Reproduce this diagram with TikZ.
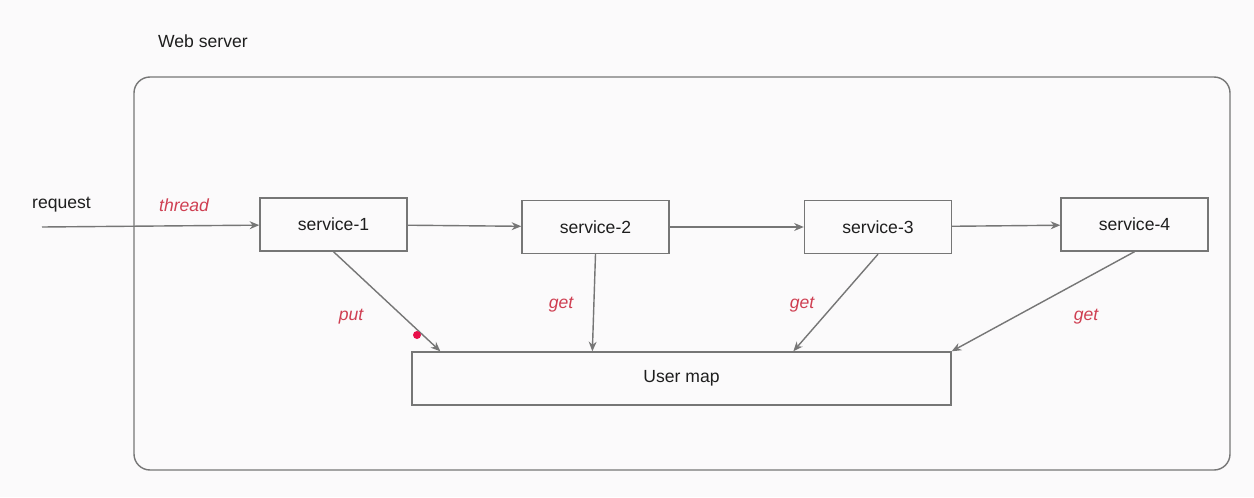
\documentclass[tikz,border=0pt]{standalone}
\usepackage{fontspec}
\setmainfont{Liberation Sans}
\usetikzlibrary{calc}
\usetikzlibrary{positioning}
\usetikzlibrary{arrows.meta}

\definecolor{bgcol}{HTML}{FBFAFB}
\definecolor{linecol}{HTML}{767676}
\definecolor{textcol}{HTML}{1E1E1E}
\definecolor{labelcol}{HTML}{CF3F52}
\definecolor{dotcol}{HTML}{E8104A}

\tikzset{
  service/.style={draw=linecol, line width=0.8pt, fill=bgcol, text=textcol, minimum width=2.94cm, minimum height=1.06cm, font=\fontsize{10}{12}\selectfont},
  plain/.style={text=textcol, font=\fontsize{10}{12}\selectfont},
  flow/.style={draw=linecol, line width=0.8pt, -{Stealth[length=5.5pt, width=4.5pt]}},
  call/.style={text=labelcol, font=\fontsize{10}{12}\selectfont\itshape},
}

\begin{document}
\begin{tikzpicture}[x=0.02cm, y=-0.02cm]
            % Background and page size
            \fill[bgcol] (0,0) rectangle (1254,497);
            
            % Web server frame
            \draw[linecol, line width=0.8pt, rounded corners=0.32cm] (134,77) rectangle (1230,470);
            \node[plain, anchor=west] (server) at (152,41) {Web server};
            
            % Services
            \node[service] (s1) at (333.5,224.5) {service-1};
            \node[service] (s2) at (595.5,227) {service-2};
            \node[service] (s3) at (878,227) {service-3};
            \node[service] (s4) at (1134.5,224.5) {service-4};
            
            % Shared map
            \node[service, minimum width=10.78cm] (umap) at (681.5,378.5) {User map};
            
            % Incoming request
            \coordinate (req) at (42,227);
            \node[plain, anchor=west] (reqlabel) at (26,205) {request};
            \node[call, anchor=west] (thread) at (153,205) {thread};
            \draw[flow] (req) -- (s1);
            
            % Chain of calls
            \draw[flow] (s1) -- (s2);
            \draw[flow] (s2) -- (s3);
            \draw[flow] (s3) -- (s4);
            
            % Map access
            \draw[flow] (s1.south) -- ($(umap.north west)+(29,0)$);
            \draw[flow] (s2.south) -- ($(umap.north west)+(181,0)$);
            \draw[flow] (s3.south) -- ($(umap.north west)+(382,0)$);
            \draw[flow] (s4.south) -- (umap.north east);
            
            \node[call] (put) at (351,317) {put};
            \node[call] (get2) at (561,305) {get};
            \node[call] (get3) at (802,305) {get};
            \node[call] (get4) at (1086,317) {get};
            
            % Marker
            \fill[dotcol] (417,335) circle (4);
            
        \end{tikzpicture}
\end{document}
